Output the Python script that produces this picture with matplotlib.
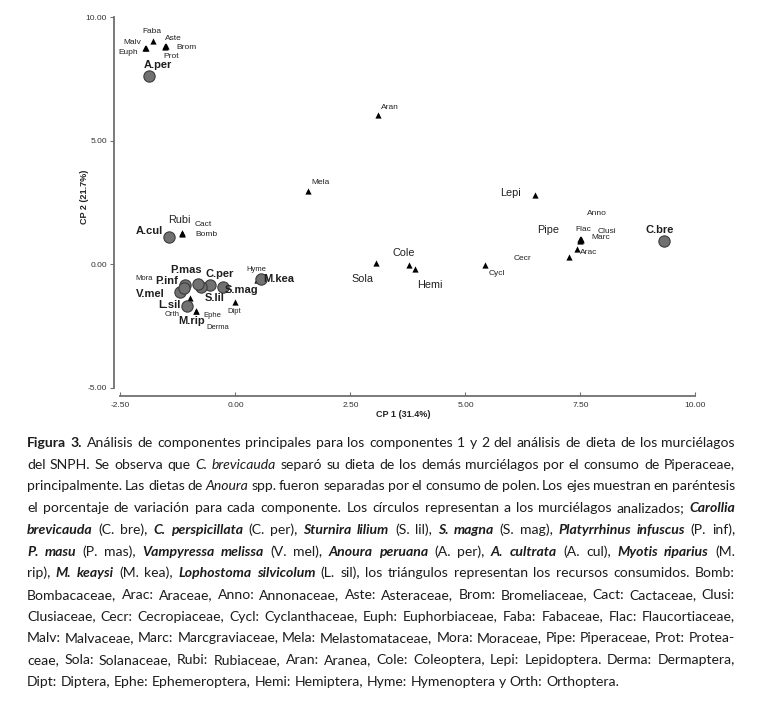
import re
import matplotlib.pyplot as plt
from matplotlib.transforms import IdentityTransform

plt.rcParams['font.family'] = ['Liberation Sans', 'DejaVu Sans']

# murcielagos (circulos)
bat_names = ['C.bre', 'C.per', 'S.lil', 'S.mag', 'P.inf', 'P.mas', 'V.mel',
             'A.per', 'A.cul', 'M.rip', 'M.kea', 'L.sil']
bat_cp1 = [9.32, -0.55, -0.75, -0.28, -1.10, -0.81, -1.21, -1.88, -1.45, -1.13, 0.55, -1.05]
bat_cp2 = [0.95, -0.84, -0.94, -0.94, -0.84, -0.81, -1.11, 7.62, 1.10, -0.98, -0.60, -1.68]

# recursos (triangulos)
res_names = ['Bomb', 'Arac', 'Anno', 'Aste', 'Brom', 'Cact', 'Clusi', 'Cecr', 'Cycl', 'Euph',
             'Faba', 'Flac', 'Malv', 'Marc', 'Mela', 'Mora', 'Pipe', 'Prot', 'Sola', 'Rubi',
             'Aran', 'Cole', 'Lepi', 'Derma', 'Dipt', 'Ephe', 'Hemi', 'Hyme', 'Orth']
res_cp1 = [-1.16, 7.42, 7.51, -1.53, -1.52, -1.17, 7.52, 7.25, 5.42, -1.96,
           -1.80, 7.50, -1.95, 7.50, 1.58, -1.16, 7.49, -1.53, 3.05, -1.17,
           3.10, 3.77, 6.51, -0.85, 0.00, -0.86, 3.90, 0.46, -0.99]
res_cp2 = [1.24, 0.62, 1.02, 8.84, 8.82, 1.25, 0.98, 0.28, -0.02, 8.76,
           9.05, 1.01, 8.77, 0.94, 2.98, -0.92, 0.97, 8.81, 0.04, 1.25,
           6.04, -0.02, 2.80, -1.90, -1.54, -1.88, -0.21, -0.64, -1.38]

x_ticks = [-2.5, 0.0, 2.5, 5.0, 7.5, 10.0]
y_ticks = [-5.0, 0.0, 5.0, 10.0]
x_label = 'CP 1 (31.4%)'
y_label = 'CP 2 (21.7%)'

# desplazamiento de etiquetas en pixeles (dx, dy hacia abajo)
bat_off = {'C.bre': (-5, -11), 'C.per': (10, -11), 'S.lil': (14, 11), 'S.mag': (19, 3),
           'P.inf': (-18, -4), 'P.mas': (-12, -14), 'V.mel': (-30, 2), 'A.per': (9, -11),
           'A.cul': (-19, -6), 'M.rip': (8, 33), 'M.kea': (18, 0), 'L.sil': (-18, -1)}
res_off = {'Bomb': (24, 1), 'Cact': (22, -9), 'Rubi': (-2, -13), 'Arac': (12, 4),
           'Anno': (16, -26), 'Aste': (8, -7), 'Brom': (21, 1), 'Clusi': (26, -9),
           'Cecr': (-46, 1), 'Cycl': (12, 9), 'Euph': (-17, 5), 'Faba': (-1, -9),
           'Flac': (3, -10), 'Malv': (-13, -5), 'Marc': (20, -3), 'Mela': (12, -8),
           'Mora': (-38, -8), 'Pipe': (-32, -10), 'Prot': (6, 10), 'Sola': (-13, 16),
           'Aran': (12, -8), 'Cole': (-5, -12), 'Lepi': (-24, -2), 'Derma': (21, 16),
           'Dipt': (-1, 9), 'Ephe': (16, 5), 'Hemi': (15, 16), 'Hyme': (0, -11),
           'Orth': (-18, 16)}
mid_labels = ['Sola', 'Cole', 'Hemi', 'Pipe', 'Lepi', 'Rubi']
tiny_labels = ['Orth', 'Ephe', 'Derma', 'Dipt', 'Hyme', 'Mora']

caption = [
    "**Figura 3.** Análisis de componentes principales para los componentes 1 y 2 del análisis de dieta de los murciélagos",
    "del SNPH. Se observa que *C. brevicauda* separó su dieta de los demás murciélagos por el consumo de Piperaceae,",
    "principalmente. Las dietas de *Anoura* spp. fueron separadas por el consumo de polen. Los ejes muestran en paréntesis",
    "el porcentaje de variación para cada componente. Los círculos representan a los murciélagos analizados; ***Carollia***",
    "***brevicauda*** (C. bre), ***C. perspicillata*** (C. per), ***Sturnira lilium*** (S. lil), ***S. magna*** (S. mag), ***Platyrrhinus infuscus*** (P. inf),",
    "***P. masu*** (P. mas), ***Vampyressa melissa*** (V. mel), ***Anoura peruana*** (A. per), ***A. cultrata*** (A. cul), ***Myotis riparius*** (M.",
    "rip), ***M. keaysi*** (M. kea), ***Lophostoma silvicolum*** (L. sil), los triángulos representan los recursos consumidos. Bomb:",
    "Bombacaceae, Arac: Araceae, Anno: Annonaceae, Aste: Asteraceae, Brom: Bromeliaceae, Cact: Cactaceae, Clusi:",
    "Clusiaceae, Cecr: Cecropiaceae, Cycl: Cyclanthaceae, Euph: Euphorbiaceae, Faba: Fabaceae, Flac: Flaucortiaceae,",
    "Malv: Malvaceae, Marc: Marcgraviaceae, Mela: Melastomataceae, Mora: Moraceae, Pipe: Piperaceae, Prot: Protea-",
    "ceae, Sola: Solanaceae, Rubi: Rubiaceae, Aran: Aranea, Cole: Coleoptera, Lepi: Lepidoptera. Derma: Dermaptera,",
    "Dipt: Diptera, Ephe: Ephemeroptera, Hemi: Hemiptera, Hyme: Hymenoptera y Orth: Orthoptera.",
]

W, H = 762, 716
fig = plt.figure(figsize=(W / 100, H / 100), dpi=100)

# ejes: el area va de x=114 a 700 px y de y=15 a 396 px
ax = fig.add_axes([114 / W, 1 - 396 / H, (700 - 114) / W, (396 - 15) / H])
ax.set_xlim(-2.641, 10.098)
ax.set_ylim(-5.338, 10.093)

ax.scatter(res_cp1, res_cp2, marker='^', s=20, color='black', linewidths=0, zorder=3)
ax.scatter(bat_cp1, bat_cp2, marker='o', s=66, facecolor='#717171', edgecolor='#3c3c3c',
           linewidths=0.8, zorder=4)

for name, x, y in zip(res_names, res_cp1, res_cp2):
    dx, dy = res_off[name]
    size = 7.8 if name in mid_labels else (5.5 if name in tiny_labels else 6)
    ax.annotate(name, (x, y), xytext=(dx, -dy), textcoords='offset pixels',
                ha='center', va='center', fontsize=size, color='#222222', zorder=5)

for name, x, y in zip(bat_names, bat_cp1, bat_cp2):
    dx, dy = bat_off[name]
    ax.annotate(name, (x, y), xytext=(dx, -dy), textcoords='offset pixels',
                ha='center', va='center', fontsize=8, fontweight='bold',
                color='#1e1e1e', zorder=5)

for side in ['top', 'right']:
    ax.spines[side].set_visible(False)
ax.spines['left'].set_bounds(-5, 10)
ax.spines['bottom'].set_bounds(-2.5, 10)
for side in ['left', 'bottom']:
    ax.spines[side].set_color('#707070')
    ax.spines[side].set_linewidth(1.3)

ax.set_xticks(x_ticks)
ax.set_yticks(y_ticks)
ax.set_xticklabels(['%.2f' % v for v in x_ticks])
ax.set_yticklabels(['%.2f' % v for v in y_ticks])
ax.tick_params(axis='x', direction='in', length=3, width=0.8, color='#707070',
               labelsize=6, labelcolor='#333333', pad=4)
ax.tick_params(axis='y', direction='out', length=3, width=0.8, color='#707070',
               labelsize=6, labelcolor='#333333', pad=2)

ax.set_xlabel(x_label, fontsize=6.5, fontweight='bold', color='#222222')
ax.xaxis.set_label_coords(0.493, -0.037)
ax.set_ylabel(y_label, fontsize=6.5, fontweight='bold', color='#222222')
ax.yaxis.set_label_coords(-0.043, 0.522)


# pie de figura justificado
def parse(line):
    words = []
    for part in re.split(r'(\*\*\*.+?\*\*\*|\*\*.+?\*\*|\*.+?\*)', line):
        if not part:
            continue
        if part.startswith('***'):
            st, txt = ('bold', 'italic'), part[3:-3]
        elif part.startswith('**'):
            st, txt = ('bold', 'normal'), part[2:-2]
        elif part.startswith('*'):
            st, txt = ('normal', 'italic'), part[1:-1]
        else:
            st, txt = ('normal', 'normal'), part
        for w in txt.split(' '):
            if w:
                words.append((w, st))
    return words


cap_font = ['Lato', 'DejaVu Sans']
renderer = fig.canvas.get_renderer()
ident = IdentityTransform()


def measure(word, st, size):
    t = fig.text(0, 0, word, fontsize=size, fontweight=st[0], fontstyle=st[1],
                 family=cap_font, transform=ident)
    w = t.get_window_extent(renderer).width
    t.remove()
    return w


x0, x1 = 27, 735
base = 10
parsed = [parse(l) for l in caption]
space = measure('a a', ('normal', 'normal'), base) - measure('aa', ('normal', 'normal'), base)
natural = [sum(measure(w, st, base) for w, st in ws) + 0.8 * space * (len(ws) - 1) for ws in parsed]
cap_size = min(11, base * (x1 - x0) / max(natural))

y_base = 447
line_h = 21.7
for i, ws in enumerate(parsed):
    widths = [measure(w, st, cap_size) for w, st in ws]
    if i < len(parsed) - 1:
        gap = (x1 - x0 - sum(widths)) / (len(ws) - 1)
    else:
        gap = space * cap_size / base
    x = x0
    y = H - (y_base + i * line_h)
    for (w, st), wd in zip(ws, widths):
        fig.text(x, y, w, fontsize=cap_size, fontweight=st[0], fontstyle=st[1],
                 family=cap_font, color='#1c1c1c', transform=ident, va='baseline')
        x += wd + gap

fig.savefig('out.png', dpi=100)
